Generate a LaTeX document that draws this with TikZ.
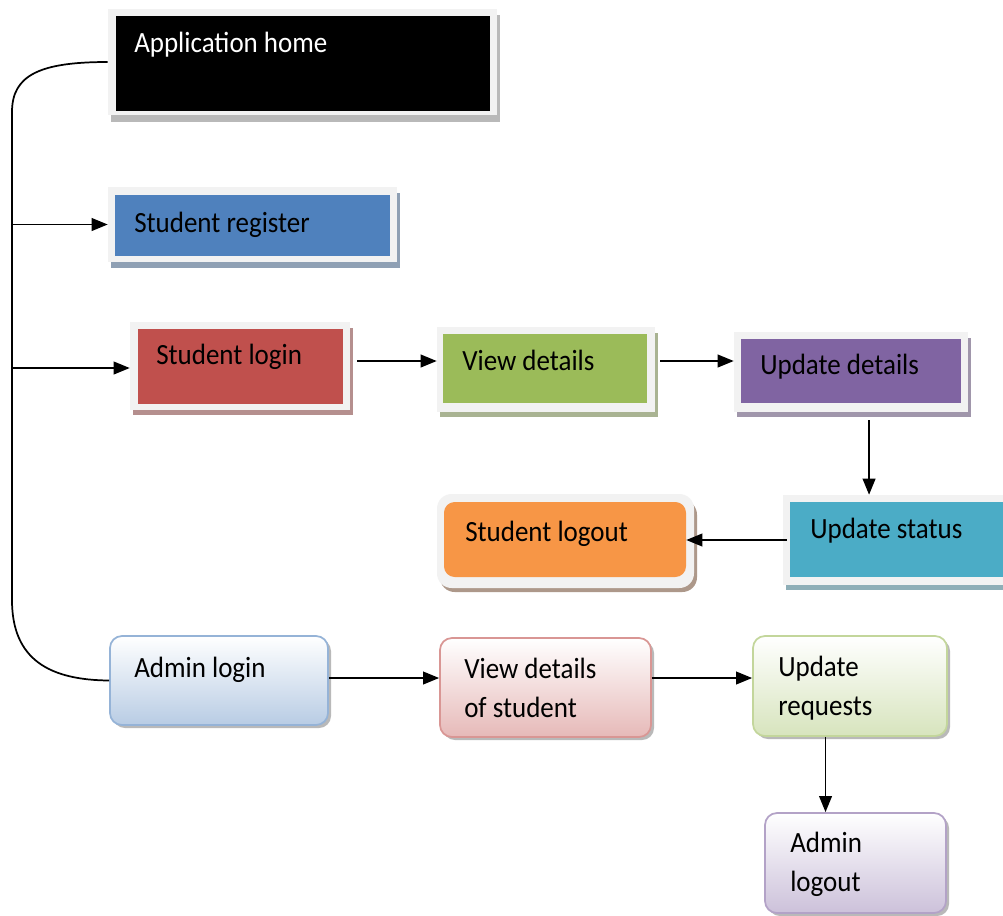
\documentclass[tikz,border=0pt]{standalone}
\usepackage{fontspec}
\newfontfamily\calib[FakeStretch=0.92]{Carlito}
\usetikzlibrary{arrows.meta,fit,calc}
\definecolor{frm}{HTML}{F2F2F2}
\definecolor{cblue}{HTML}{4F81BD}
\definecolor{cred}{HTML}{C0504D}
\definecolor{cgreen}{HTML}{9BBB59}
\definecolor{cpurple}{HTML}{8064A2}
\definecolor{cteal}{HTML}{4BACC6}
\definecolor{corange}{HTML}{F79646}
\definecolor{cbrown}{HTML}{A86A40}
\definecolor{gbluel}{HTML}{B8CCE4}\definecolor{gblued}{HTML}{95B3D7}
\definecolor{gredl}{HTML}{E6B9B8}\definecolor{gredd}{HTML}{D99694}
\definecolor{ggreenl}{HTML}{D7E4BD}\definecolor{ggreend}{HTML}{C3D69B}
\definecolor{gpurl}{HTML}{CCC1DA}\definecolor{gpurd}{HTML}{B3A2C7}
\begin{document}
\begin{tikzpicture}[x=0.75pt,y=-0.75pt,
  framebox/.style={inner sep=0pt, fill=frm},
  shd/.style={fill=#1!45!gray!75},
  gshd/.style={fill=gray!55, rounded corners=9pt},
  gbox/.style={inner sep=0pt, rounded corners=9pt, line width=1.3pt},
  lbl/.style={font=\calib\fontsize{22}{29}\selectfont, inner sep=0pt, align=left, anchor=base west},
  conn/.style={line width=1.3pt, -{Triangle[length=12pt,width=9.5pt]}},
  trunk/.style={line width=1.3pt}]
\clip (0,0) rectangle (1003,915);
\fill[white] (0,0) rectangle (1003,915);

% Application home
\fill[gray!55] (111,15) rectangle (500,122);
\node[framebox, fit={(108,9) (497,115)}] (home) {};
\fill[black] (116,16) rectangle (490,111);
\node[lbl, text=white] (homet) at (134,52) {Application home};

% Student register
\fill[shd=cblue] (111,193) rectangle (400,268);
\node[framebox, fit={(108,187) (397,262)}] (srg) {};
\fill[cblue] (115,195) rectangle (390,256);
\node[lbl] (srgt) at (134,232) {Student register};

% Student login
\fill[shd=cred] (133,328) rectangle (353,415);
\node[framebox, fit={(130,322) (350,410)}] (slogin) {};
\fill[cred] (138,329) rectangle (343,404);
\node[lbl] (slogint) at (156,364) {Student login};

% View details
\fill[shd=cgreen] (440,333) rectangle (658,417);
\node[framebox, fit={(437,327) (655,412)}] (view) {};
\fill[cgreen] (443,334) rectangle (647,403);
\node[lbl] (viewt) at (462,370) {View details};

% Update details
\fill[shd=cpurple] (737,338) rectangle (971,417);
\node[framebox, fit={(734,332) (968,412)}] (udet) {};
\fill[cpurple] (741,339) rectangle (961,403);
\node[lbl] (udett) at (760,374) {Update details};

% Update status
\fill[shd=cteal] (786,501) rectangle (1010,590);
\node[framebox, fit={(783,495) (1010,585)}] (ustat) {};
\fill[cteal] (790,502) rectangle (1010,577);
\node[lbl] (ustatt) at (810,538) {Update status};

% Student logout
\fill[shd=cbrown, rounded corners=11pt] (440,500) rectangle (697,592);
\node[framebox, rounded corners=11pt, fit={(437,494) (694,588)}] (slogout) {};
\fill[corange, rounded corners=8pt] (444,502) rectangle (686,577);
\node[lbl] (slogoutt) at (465,541) {Student logout};

% Admin row (gradient boxes)
\fill[gshd] (113,639) rectangle (331,728);
\node[gbox, draw=gblued, top color=white, bottom color=gbluel, fit={(110,636) (328,725)}] (alogin) {};
\node[lbl] (alogint) at (134,677) {Admin login};

\fill[gshd] (443,641) rectangle (654,740);
\node[gbox, draw=gredd, top color=white, bottom color=gredl, fit={(440,638) (651,737)}] (vstu) {};
\node[lbl] (vstut) at (464,717) {View details\\of student};

\fill[gshd] (756,639) rectangle (950,739);
\node[gbox, draw=ggreend, top color=white, bottom color=ggreenl, fit={(753,636) (947,736)}] (ureq) {};
\node[lbl] (ureqt) at (778,715) {Update\\requests};

\fill[gshd] (768,816) rectangle (949,916);
\node[gbox, draw=gpurd, top color=white, bottom color=gpurl, fit={(765,813) (946,913)}] (alog) {};
\node[lbl] (alogt) at (790,891) {Admin\\logout};

% Trunk
\draw[trunk] (home.west) .. controls (40,62) and (12,75) .. (12,112) -- (12,600) .. controls (12,660) and (50,680) .. (alogin.west);
\coordinate (t1) at (12,224.5);
\coordinate (t2) at (12,368);
\draw[conn] (t1) -- (srg.west);
\draw[conn] (t2) -- (t2 -| slogin.west);

% Student flow
\coordinate (a1) at ($(slogin.east)+(7,-5)$);
\draw[conn] (a1) -- (a1 -| view.west);
\coordinate (a2) at ($(view.east)+(5,-8.5)$);
\draw[conn] (a2) -- (a2 -| udet.west);
\coordinate (a3) at ($(udet.south west)!0.577!(udet.south east)+(0,8)$);
\draw[conn] (a3) -- (a3 |- ustat.north);
\coordinate (a4) at ($(ustat.west)+(4,0)$);
\coordinate (a5) at ($(slogout.east)+(-8,0)$);
\draw[conn] (a4) -- (a4 -| a5);

% Admin flow
\coordinate (c1) at ($(alogin.east)+(0,-2.5)$);
\draw[conn] (c1) -- (c1 -| vstu.west);
\coordinate (c2) at ($(vstu.east)+(0,-9.5)$);
\draw[conn] (c2) -- (c2 -| ureq.west);
\coordinate (c3) at ($(ureq.south west)!0.375!(ureq.south east)$);
\draw[conn] (c3) -- (c3 |- alog.north);
\end{tikzpicture}
\end{document}
